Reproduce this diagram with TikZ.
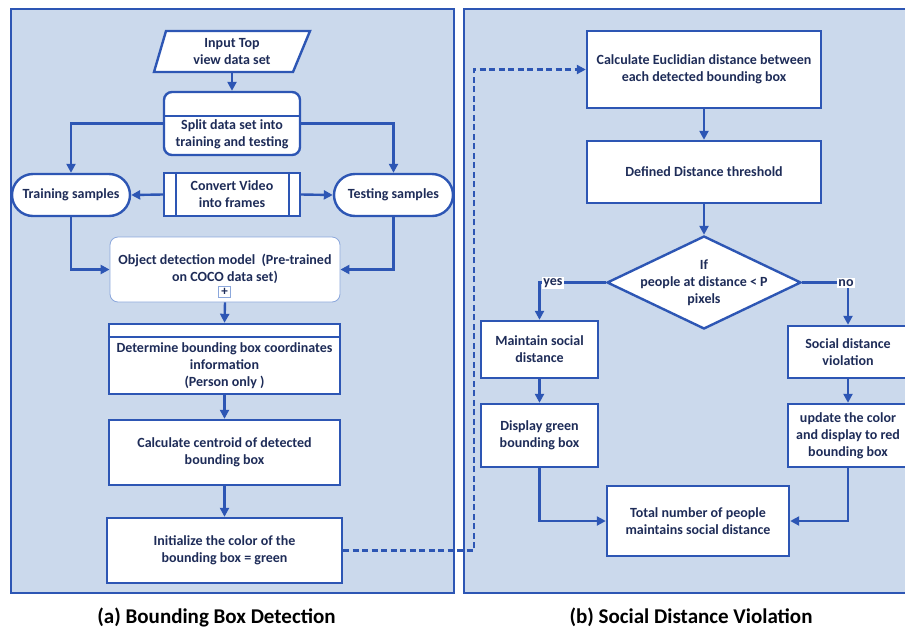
\documentclass[tikz,border=0pt]{standalone}
\usepackage{fontspec}
\setmainfont{Carlito}
\usetikzlibrary{arrows.meta,shapes.geometric}
\definecolor{bc}{RGB}{45,86,180}
\definecolor{panelfill}{RGB}{203,217,236}
\definecolor{txt}{RGB}{30,44,88}
\definecolor{lightb}{RGB}{140,168,220}
\begin{document}
\begin{tikzpicture}[x=1pt,y=-1pt,
  lw/.style={line width=2.4pt},
  box/.style={draw=bc,lw,fill=white,inner sep=0pt,align=center,text=txt,
    font=\fontsize{14}{17}\selectfont\bfseries},
  tx/.style={inner sep=0pt,align=center,text=txt,font=\fontsize{14}{17}\selectfont\bfseries},
  arr/.style={draw=bc,lw,-{Triangle[length=9pt,width=9pt]}},
  dasharr/.style={draw=bc,line width=2.6pt,dash pattern=on 6pt off 3.5pt,-{Triangle[length=9pt,width=9pt]}},
  panel/.style={draw=bc,lw,fill=panelfill},
  captext/.style={inner sep=0pt,font=\fontsize{21}{25}\selectfont\bfseries}
]
\useasboundingbox (0,0) rectangle (905,630);
% panels
\draw[panel] (11,9) rectangle (454,593);
\draw[panel] (464,9) rectangle (912,593);

% ---------- left panel ----------
\draw[draw=bc,lw,fill=white,line join=miter] (166,31) -- (310,31) -- (293,72) -- (154,72) -- cycle;
\node[tx,minimum width=140pt,minimum height=41pt] (input) at (232,51.5) {Input Top\\view data set};

\node[box,rounded corners=8pt,minimum width=136pt,minimum height=63pt] (split) at (232,123.5) {};
\draw[draw=bc,lw] (split.west |- 0,116) -- (split.east |- 0,116);
\node[tx] (splittext) at (232,134.5) {Split data set into\\training and testing};

\node[box,rounded corners=21pt,minimum width=118pt,minimum height=42pt] (train) at (71,195) {Training samples};
\node[box,rounded corners=21pt,minimum width=119pt,minimum height=42pt] (test) at (393.5,195) {Testing samples};

\node[box,minimum width=136pt,minimum height=43pt] (conv) at (232,194.5) {Convert Video\\into frames};
\draw[draw=bc,lw] (conv.north -| 176,0) -- (conv.south -| 176,0);
\draw[draw=bc,lw] (conv.north -| 289,0) -- (conv.south -| 289,0);

\node[box,draw=lightb,line width=0.8pt,rounded corners=8pt,minimum width=230pt,minimum height=65pt] (obj) at (225,269.5) {};
\node[tx] (objtext) at (225,268.5) {Object detection model\ \ (Pre-trained\\on COCO data set)};
\node[draw=lightb,line width=0.8pt,fill=white,minimum width=12pt,minimum height=11pt,inner sep=0pt,text=txt,font=\fontsize{13}{13}\selectfont\bfseries] (plus) at (224.5,291.5) {+};

\node[box,minimum width=231pt,minimum height=70pt] (det) at (224.5,359) {};
\draw[draw=bc,lw] (det.west |- 0,337) -- (det.east |- 0,337);
\node[tx] (dettext) at (224.5,365.5) {Determine bounding box coordinates\\information\\(Person only )};

\node[box,minimum width=231pt,minimum height=65pt] (cent) at (224.5,452.5) {Calculate centroid of detected\\bounding box};
\node[box,minimum width=235pt,minimum height=65pt] (init) at (224.5,550.5) {Initialize the color of the\\bounding box = green};

% left connectors
\draw[arr] (input.south) -- (split.north);
\draw[arr] (split.west) -| (train.north);
\draw[arr] (split.east) -| (test.north);
\draw[arr] (conv.west) -- (train.east);
\draw[arr] (conv.east) -- (test.west);
\draw[arr] (train.south) |- (obj.west);
\draw[arr] (test.south) |- (obj.east);
\draw[arr] (obj.south) -- (det.north);
\draw[arr] (det.south) -- (cent.north);
\draw[arr] (cent.south) -- (init.north);

% ---------- right panel ----------
\node[box,minimum width=234pt,minimum height=77pt] (euc) at (704,69.5) {Calculate Euclidian distance between\\each detected bounding box};
\node[box,minimum width=234pt,minimum height=62pt] (thr) at (704,172) {Defined Distance threshold};
\node[draw=bc,lw,fill=white,diamond,aspect=2.08,minimum width=194pt,minimum height=93pt,inner sep=0pt] (dia) at (704,282.5) {};
\node[tx] (diatext) at (704,282.5) {If\\people at distance < P\\pixels};

\node[box,minimum width=117pt,minimum height=57pt] (maint) at (539.5,349.5) {Maintain social\\distance};
\node[box,minimum width=117pt,minimum height=63pt] (disp) at (539.5,435.5) {Display green\\bounding box};
\node[box,minimum width=120pt,minimum height=52pt] (viol) at (848,352) {Social distance\\violation};
\node[box,minimum width=120pt,minimum height=63pt] (upd) at (848,435.5) {update the color\\and display to red\\bounding box};
\node[box,minimum width=182pt,minimum height=70pt] (tot) at (698,521) {Total number of people\\maintains social distance};

% right connectors
\draw[arr] (euc.south) -- (thr.north);
\draw[arr] (thr.south) -- (dia.north);
\draw[arr] (dia.west) -| (maint.north);
\draw[arr] (dia.east) -| (viol.north);
\draw[arr] (maint.south) -- (disp.north);
\draw[arr] (viol.south) -- (upd.north);
\draw[arr] (disp.south) |- (tot.west);
\draw[arr] (upd.south) |- (tot.east);
\node[tx,fill=white,inner sep=1.2pt] (yes) at (553,283) {yes};
\node[tx,fill=white,inner sep=1.2pt] (no) at (846,283) {no};

% dashed link
\coordinate (bend) at (474,69.5);
\draw[dasharr] (init.east) -| (bend) -- (euc.west);

% captions
\node[captext] (capa) at (216.5,617) {(a) Bounding Box Detection};
\node[captext] (capb) at (691,617) {(b) Social Distance Violation};
\end{tikzpicture}
\end{document}
